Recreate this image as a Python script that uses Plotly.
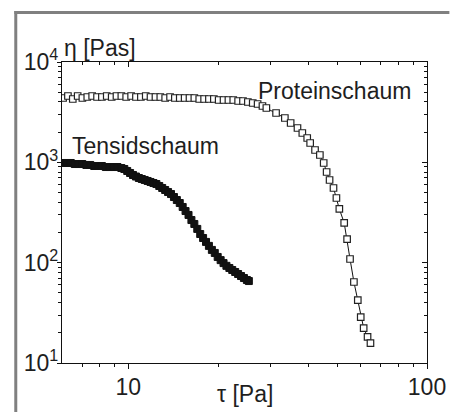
import plotly.graph_objects as go

# ---- data ----
protein_tau = [6.05, 6.28, 6.52, 6.77, 7.02, 7.29, 7.57, 7.86, 8.16, 8.47, 8.80, 9.13, 9.48, 9.84,
               10.22, 10.61, 11.02, 11.44, 11.87, 12.33, 12.80, 13.29, 13.80, 14.32, 14.87, 15.44,
               16.03, 16.64, 17.28, 17.94, 18.62, 19.34, 20.07, 20.84, 21.64, 22.46, 23.32, 24.21,
               25.14, 26.10, 27.10, 28.13, 28.99, 31.24, 33.43, 34.96, 36.85, 38.25, 39.72, 40.63,
               42.19, 43.79, 45.10, 46.13, 47.19, 48.64, 49.75, 50.88, 52.82, 54.02, 55.25, 56.93,
               58.66, 60.00, 61.37, 63.24, 64.68]
protein_eta = [4377, 4583, 4277, 4583, 4377, 4479, 4583, 4479, 4479, 4583, 4479, 4583, 4583, 4479,
               4583, 4479, 4479, 4583, 4479, 4479, 4479, 4377, 4479, 4377, 4377, 4377,
               4377, 4377, 4277, 4277, 4277, 4277, 4180, 4180, 4180, 4180, 4086, 4086,
               3993, 3903, 3815, 3643, 3479, 3102, 2765, 2466, 2199, 1960, 1748, 1558,
               1327, 1183, 985, 801, 667, 555, 441, 343, 249, 172, 108.8, 64.2,
               42.4, 28.7, 22.3, 18.2, 15.8]

tensid_tau = [6.05, 6.23, 6.42, 6.62, 6.82, 7.02, 7.24, 7.46, 7.69, 7.92, 8.16, 8.41, 8.67, 8.93,
              9.20, 9.48, 9.70, 9.92, 10.14, 10.37, 10.61, 10.85, 11.10, 11.35, 11.61, 11.87,
              12.14, 12.42, 12.70, 12.99, 13.29, 13.59, 13.90, 14.22, 14.54, 14.87, 15.21,
              15.55, 15.91, 16.27, 16.64, 17.02, 17.41, 17.80, 18.21, 18.62, 19.05, 19.48,
              19.92, 20.38, 20.84, 21.31, 21.80, 22.29, 22.80, 23.32, 23.85, 24.39, 24.95, 25.33]
tensid_eta = [985, 985, 985, 962, 962, 962, 941, 941, 919, 919, 919, 898, 898, 898,
              898, 878, 858, 820, 783, 748, 722, 698, 682, 667, 652, 637,
              622, 608, 581, 555, 530, 506, 483, 451, 421, 393, 359,
              327, 299, 266, 243, 217, 193, 176, 161, 147, 134, 125,
              114, 106, 99, 93, 88.5, 84.5, 80.7, 77.1, 73.6, 70.3, 67.2, 65.6]

x_major = [10, 100]
x_major_text = ["10", "100"]
x_minor = [7, 8, 9, 20, 30, 40, 50, 60, 70, 80, 90]
y_major = [10, 100, 1000, 10000]
y_major_text = ["10<sup>1</sup>", "10<sup>2</sup>", "10<sup>3</sup>", "10<sup>4</sup>"]
y_minor = [m * 10 ** e for e in (1, 2, 3) for m in range(2, 10)]

FONT = "Liberation Sans, Arial, sans-serif"
TXT = "#1e1e1e"
FS = 23

# plot area in pixels
W, H = 458, 412
L, R, T, B = 62, 21, 62, 49
PW, PH = W - L - R, H - T - B


def px(xp):
    return (xp - L) / PW


def py(yp):
    return (H - B - yp) / PH


fig = go.Figure()
fig.add_trace(go.Scatter(
    x=protein_tau, y=protein_eta, mode="lines+markers",
    line=dict(color="#111", width=1),
    marker=dict(symbol="square", size=6.5, color="white", line=dict(color="#222", width=1.2)),
    showlegend=False, hoverinfo="skip"))
fig.add_trace(go.Scatter(
    x=tensid_tau, y=tensid_eta, mode="lines+markers",
    line=dict(color="#111", width=2),
    marker=dict(symbol="square", size=7, color="#111", line=dict(color="#111", width=1)),
    showlegend=False, hoverinfo="skip"))
# dummy trace for mirror axes
fig.add_trace(go.Scatter(x=[], y=[], xaxis="x2", yaxis="y2", showlegend=False, hoverinfo="skip"))

xr = [0.77815, 2.0]
yr = [1.0, 4.0]
axis_common = dict(type="log", showgrid=False, zeroline=False, showline=True,
                   linecolor="#111", linewidth=1.2)

fig.update_layout(
    width=W, height=H, autosize=False,
    margin=dict(l=L, r=R, t=T, b=B, pad=0),
    paper_bgcolor="white", plot_bgcolor="white",
    font=dict(family=FONT, size=FS, color=TXT),
    xaxis=dict(**axis_common, range=xr, tickvals=x_major, ticktext=x_major_text,
               ticks="outside", ticklen=5, tickwidth=1.2, tickcolor="#111",
               tickfont=dict(size=FS, color=TXT), ticklabelstandoff=-2,
               minor=dict(tickvals=x_minor, ticks="outside", ticklen=3, tickwidth=1, tickcolor="#111")),
    yaxis=dict(**axis_common, range=yr, tickvals=y_major, ticktext=y_major_text,
               ticks="outside", ticklen=4, tickwidth=1.2, tickcolor="#111",
               tickfont=dict(size=FS, color=TXT), ticklabelstandoff=-6,
               minor=dict(tickvals=y_minor, ticks="outside", ticklen=3, tickwidth=1, tickcolor="#111")),
    xaxis2=dict(**axis_common, range=xr, overlaying="x", side="top", anchor="y2",
                tickvals=x_major, showticklabels=False,
                ticks="inside", ticklen=5, tickwidth=1.2, tickcolor="#111",
                minor=dict(tickvals=x_minor, ticks="inside", ticklen=3, tickwidth=1, tickcolor="#111")),
    yaxis2=dict(**axis_common, range=yr, overlaying="y", side="right", anchor="x2",
                tickvals=y_major, showticklabels=False,
                ticks="inside", ticklen=5, tickwidth=1.2, tickcolor="#111",
                minor=dict(tickvals=y_minor, ticks="inside", ticklen=3, tickwidth=1, tickcolor="#111")),
    annotations=[
        dict(text="η [Pas]", xref="paper", yref="paper", x=px(62), y=py(48),
             xanchor="left", yanchor="middle", showarrow=False, font=dict(size=FS, color=TXT)),
        dict(text="τ [Pa]", xref="paper", yref="paper", x=px(250), y=py(394),
             xanchor="center", yanchor="middle", showarrow=False, font=dict(size=FS, color=TXT)),
        dict(text="Proteinschaum", xref="paper", yref="paper", x=px(261), y=py(91),
             xanchor="left", yanchor="middle", showarrow=False, font=dict(size=FS, color=TXT)),
        dict(text="Tensidschaum", xref="paper", yref="paper", x=px(70), y=py(146),
             xanchor="left", yanchor="middle", showarrow=False, font=dict(size=FS, color=TXT)),
    ],
    shapes=[
        dict(type="line", xref="paper", yref="paper", x0=px(13), x1=px(460), y0=py(12.5), y1=py(12.5),
             line=dict(color="#808080", width=3)),
        dict(type="line", xref="paper", yref="paper", x0=px(14.5), x1=px(14.5), y0=py(11), y1=py(414),
             line=dict(color="#808080", width=3)),
    ],
)

fig.write_html("out.html")
